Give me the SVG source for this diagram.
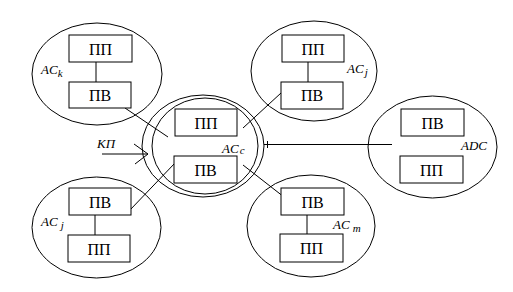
<svg xmlns="http://www.w3.org/2000/svg" width="513" height="292" viewBox="0 0 513 292">
<style>
.e{fill:none;stroke:#000;stroke-width:1}
.b{fill:#fff;stroke:#000;stroke-width:1}
.t{font-family:'Liberation Serif','DejaVu Serif','Times New Roman',serif;font-size:16px;text-anchor:middle;fill:#000}
.l{font-family:'Liberation Serif','DejaVu Serif','Times New Roman',serif;font-size:13px;font-style:italic;fill:#000}
.s{font-size:11px}
.c{stroke:#000;stroke-width:1;fill:none}
</style>
<rect width="513" height="292" fill="#fff"/>
<g id="connectors">
<line class="c" x1="125" y1="108" x2="168" y2="137"/>
<line class="c" x1="281" y1="93" x2="243" y2="128"/>
<line class="c" x1="130" y1="210" x2="175" y2="163"/>
<line class="c" x1="243" y1="165" x2="284" y2="197"/>
<line class="c" x1="264" y1="144.5" x2="392" y2="144.5"/>
<line class="c" x1="267.5" y1="141" x2="267.5" y2="148"/>
<line class="c" x1="102" y1="154" x2="148" y2="154"/>
<polyline class="c" points="134,144 148,154 135,164"/>
</g>
<g id="ACk">
<ellipse class="e" cx="97" cy="74" rx="65" ry="51"/>
<line class="c" x1="96" y1="62" x2="96" y2="82"/>
<rect class="b" x="69" y="35" width="63" height="27"/>
<text class="t" x="100.5" y="54.5">ПП</text>
<rect class="b" x="69" y="82" width="62" height="26"/>
<text class="t" x="100" y="100.5">ПВ</text>
<text class="l" x="41" y="74">AC<tspan class="s" dy="3">k</tspan></text>
</g>
<g id="ACj-top">
<ellipse class="e" cx="314" cy="71" rx="63" ry="50"/>
<line class="c" x1="308" y1="62" x2="308" y2="82"/>
<rect class="b" x="282" y="35" width="62" height="27"/>
<text class="t" x="313" y="54.5">ПП</text>
<rect class="b" x="281" y="82" width="62" height="27"/>
<text class="t" x="312" y="101">ПВ</text>
<text class="l" x="347" y="73">AC<tspan class="s" dx="1" dy="3">j</tspan></text>
</g>
<g id="ACc">
<ellipse class="e" cx="203" cy="146" rx="61" ry="51"/>
<ellipse class="e" cx="205" cy="146" rx="53" ry="48"/>
<rect class="b" x="175" y="109" width="62" height="27"/>
<text class="t" x="206" y="128.5">ПП</text>
<rect class="b" x="174" y="156" width="63" height="27"/>
<text class="t" x="205.5" y="175.5">ПВ</text>
<text class="l" x="222" y="153">AC<tspan class="s" dx="1" dy="1">c</tspan></text>
</g>
<g id="KP">
<text class="l" x="97" y="148">KП</text>
</g>
<g id="ADC">
<ellipse class="e" cx="432.5" cy="147" rx="64.5" ry="51"/>
<rect class="b" x="401" y="109" width="63" height="27"/>
<text class="t" x="432.5" y="128.5">ПВ</text>
<rect class="b" x="400" y="156" width="63" height="27"/>
<text class="t" x="431.5" y="175.5">ПП</text>
<text class="l" x="461" y="150">ADC</text>
</g>
<g id="ACj-bottom">
<ellipse class="e" cx="96.5" cy="227.5" rx="64.5" ry="50.5"/>
<line class="c" x1="95" y1="215" x2="95" y2="235"/>
<rect class="b" x="69" y="188" width="62" height="27"/>
<text class="t" x="100" y="207.5">ПВ</text>
<rect class="b" x="68" y="235" width="62" height="27"/>
<text class="t" x="99" y="254.5">ПП</text>
<text class="l" x="41" y="226">AC<tspan class="s" dx="3" dy="3">j</tspan></text>
</g>
<g id="ACm">
<ellipse class="e" cx="311" cy="226" rx="64" ry="51"/>
<line class="c" x1="307" y1="215" x2="307" y2="234"/>
<rect class="b" x="281" y="188" width="63" height="27"/>
<text class="t" x="312.5" y="207.5">ПВ</text>
<rect class="b" x="280" y="234" width="63" height="28"/>
<text class="t" x="311.5" y="254">ПП</text>
<text class="l" x="333" y="229">AC<tspan class="s" dx="3" dy="3">m</tspan></text>
</g>
</svg>
